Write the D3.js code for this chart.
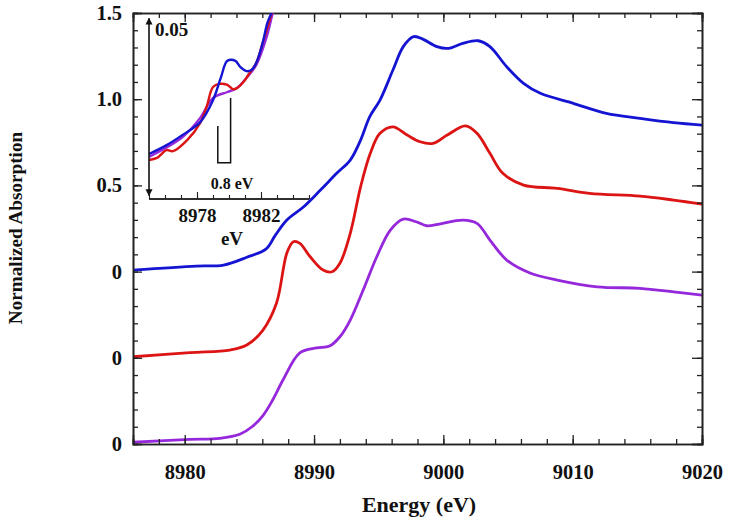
<!DOCTYPE html>
<html><head><meta charset="utf-8">
<script src="https://cdn.jsdelivr.net/npm/d3@7"></script>
<style>body{margin:0;background:#fff}svg{display:block}text{font-family:"Liberation Serif","Times New Roman",serif;font-weight:bold;fill:#111}</style>
</head><body><svg id="c" width="729" height="526"></svg>
<script>
// ---- data ----
const seriesNames = ["blue", "red", "purple"];
const seriesColors = ["#1414d2", "#dc1414", "#9628dc"];
const offsets = [1.0, 0.5, 0.0];
const blueE = [8976,8980.9,8983.0,8984.8,8986.3,8987.0,8987.9,8989.2,8990.5,8991.75,8992.8,8993.6,8994.3,8995.1,8996.1,8996.9,8997.7,8998.45,8999.5,9000.4,9001.5,9002.7,9003.6,9004.9,9006.2,9007.5,9010.05,9012.6,9015.2,9017.8,9020];
const blueV = [0.009,0.032,0.038,0.083,0.132,0.210,0.299,0.376,0.473,0.570,0.647,0.763,0.898,0.995,1.169,1.305,1.363,1.347,1.305,1.295,1.324,1.339,1.305,1.188,1.092,1.034,0.976,0.918,0.889,0.864,0.850];
const redE = [8976,8980.4,8983.5,8984.8,8986.05,8987.1,8987.9,8988.4,8988.9,8989.7,8990.7,8991.4,8992.0,8992.8,8993.6,8994.35,8995.1,8996.1,8997.2,8998.2,8999.2,9000.3,9001.7,9002.6,9003.6,9004.6,9006.2,9008.8,9011.3,9015.2,9017.8,9020];
const redV = [0.006,0.030,0.045,0.074,0.161,0.318,0.608,0.673,0.664,0.586,0.509,0.499,0.548,0.722,0.992,1.186,1.302,1.340,1.292,1.253,1.244,1.292,1.345,1.302,1.186,1.070,1.002,0.983,0.954,0.938,0.915,0.892];
const purpleE = [8976,8980.4,8982.7,8984.3,8985.2,8986.05,8986.8,8987.6,8988.9,8990.2,8991.2,8992.0,8992.8,8993.8,8994.85,8995.9,8996.9,8997.9,8998.7,8999.7,9001.5,9002.6,9003.6,9004.9,9006.7,9008.8,9011.9,9015.2,9017.8,9020];
const purpleV = [0.010,0.027,0.033,0.058,0.100,0.165,0.255,0.371,0.528,0.557,0.568,0.622,0.719,0.893,1.086,1.241,1.305,1.289,1.266,1.276,1.299,1.280,1.183,1.067,0.992,0.951,0.912,0.903,0.883,0.864];
// inset (pre-edge) data
const insBlueE = [8975.0,8976.1,8977.1,8978.2,8979.0,8979.5,8979.9,8980.4,8980.7,8981.1,8981.4,8981.7,8982.1,8982.4,8982.7,8983.0];
const insBlueV = [0.0127,0.0152,0.0181,0.0217,0.0279,0.0344,0.0390,0.0390,0.0373,0.0361,0.0364,0.0384,0.0440,0.0497,0.0530,0.0570];
const insRedE = [8975.0,8975.5,8976.1,8976.5,8977.4,8978.2,8978.6,8979.0,8979.4,8979.9,8980.25,8980.5,8980.9,8981.2,8981.7,8982.1,8982.6,8982.9];
const insRedV = [0.0110,0.0116,0.0138,0.0135,0.0167,0.0215,0.0260,0.0316,0.0325,0.0322,0.0310,0.0313,0.0330,0.0350,0.0384,0.0440,0.0514,0.0560];
const insPurpleE = [8975.0,8977.1,8978.2,8979.0,8979.9,8980.5,8981.1,8981.7,8982.35,8982.7,8983.0];
const insPurpleV = [0.0119,0.0175,0.0229,0.0285,0.0302,0.0313,0.0342,0.0378,0.0457,0.0519,0.0570];
const yTickVals = [0, 0.5, 1.0, 1.5, 2.0, 2.5];
const yTickLabels = ["0", "0", "0", "0.5", "1.0", "1.5"];
const xTickVals = [8980, 8990, 9000, 9010, 9020];
const insXTickLabels = [8978, 8982];
const arrowSpan = [0.001, 0.051];
const arrowLabel = "0.05";
const splitE = [8979.3, 8980.1];
const splitTop = [0.0206, 0.0285];
const splitBottom = 0.0102;
const splitLabel = "0.8 eV";

// ---- scales ----
const svg = d3.select("#c");
const x = d3.scaleLinear([8976, 9020], [133, 702]);
const y = d3.scaleLinear([0, 2.5], [444, 13]);
const xi = d3.scaleLinear([8975, 8985], [149, 309]);
const yi = d3.scaleLinear([0, 0.0525], [199, 13]);
const axisColor = "#222";

svg.append("defs").append("clipPath").attr("id","clipMain").append("rect")
  .attr("x",133).attr("y",13).attr("width",569).attr("height",431);
svg.select("defs").append("clipPath").attr("id","clipIns").append("rect")
  .attr("x",149).attr("y",13).attr("width",160).attr("height",186);
const mk = svg.select("defs").append("marker").attr("id","ah").attr("viewBox","0 0 10 10")
  .attr("refX",9).attr("refY",5).attr("markerWidth",7).attr("markerHeight",9)
  .attr("markerUnits","userSpaceOnUse").attr("orient","auto-start-reverse");
mk.append("path").attr("d","M0,0 L10,5 L0,10 z").attr("fill","#111");

// ---- main curves ----
const mainData = [[blueE, blueV], [redE, redV], [purpleE, purpleV]];
const line = d3.line().curve(d3.curveCatmullRom.alpha(0.5));
mainData.forEach(([E, V], i) => {
  const pts = E.map((e, k) => [x(e), y(V[k] + offsets[i])]);
  svg.append("path").attr("d", line(pts)).attr("fill","none")
    .attr("stroke", seriesColors[i]).attr("stroke-width", 2.8)
    .attr("clip-path","url(#clipMain)");
});

// ---- axes (box with inward ticks) ----
const gB = svg.append("g").attr("transform","translate(0,444)")
  .call(d3.axisBottom(x).tickValues(d3.range(8976, 9021, 2)).tickSize(-5).tickFormat(""));
const gB2 = svg.append("g").attr("transform","translate(0,444)")
  .call(d3.axisBottom(x).tickValues(xTickVals).tickSize(-9).tickPadding(20).tickFormat(d3.format("d")));
gB2.selectAll("text").attr("font-size", 20.5);
const gT = svg.append("g").attr("transform","translate(0,13)")
  .call(d3.axisTop(x).tickValues(d3.range(8976, 9021, 2)).tickSize(-5).tickFormat(""));
const gT2 = svg.append("g").attr("transform","translate(0,13)")
  .call(d3.axisTop(x).tickValues(xTickVals).tickSize(-9).tickFormat(""));
const minorY = d3.range(0, 2.501, 0.1);
const gL = svg.append("g").attr("transform","translate(133,0)")
  .call(d3.axisLeft(y).tickValues(minorY).tickSize(-5).tickFormat(""));
const gL2 = svg.append("g").attr("transform","translate(133,0)")
  .call(d3.axisLeft(y).tickValues(yTickVals).tickSize(-9).tickPadding(11)
    .tickFormat((d,i) => yTickLabels[i]));
gL2.selectAll("text").attr("font-size", 20.5);
const gR = svg.append("g").attr("transform","translate(702,0)")
  .call(d3.axisRight(y).tickValues(minorY).tickSize(-5).tickFormat(""));
const gR2 = svg.append("g").attr("transform","translate(702,0)")
  .call(d3.axisRight(y).tickValues(yTickVals).tickSize(-10).tickFormat(""));
[gB,gB2,gT,gT2,gL,gL2,gR,gR2].forEach(g => {
  g.select(".domain").attr("stroke", axisColor).attr("stroke-width", 1.6);
  g.selectAll(".tick line").attr("stroke", axisColor).attr("stroke-width", 1.3);
  g.selectAll("text").attr("fill","#111").attr("font-family","Liberation Serif").attr("font-weight","bold");
});

svg.append("text").attr("x", 419).attr("y", 512).attr("text-anchor","middle")
  .attr("font-size", 22).text("Energy (eV)");
svg.append("text").attr("transform","translate(22,228) rotate(-90)").attr("text-anchor","middle")
  .attr("font-size", 19.2).text("Normalized Absorption");

// ---- inset ----
const insData = [[insBlueE, insBlueV], [insRedE, insRedV], [insPurpleE, insPurpleV]];
const drawOrder = [2, 1, 0];
drawOrder.forEach(i => {
  const [E, V] = insData[i];
  const pts = E.map((e, k) => [xi(e), yi(V[k])]);
  svg.append("path").attr("d", line(pts)).attr("fill","none")
    .attr("stroke", seriesColors[i]).attr("stroke-width", 2.4)
    .attr("clip-path","url(#clipIns)");
});
const gI = svg.append("g").attr("transform","translate(0,199)")
  .call(d3.axisBottom(xi).tickValues(d3.range(8975, 8986, 1)).tickSize(-4).tickFormat(""));
const gI2 = svg.append("g").attr("transform","translate(0,199)")
  .call(d3.axisBottom(xi).tickValues(insXTickLabels).tickSize(-7).tickPadding(10).tickFormat(d3.format("d")));
gI2.selectAll("text").attr("font-size", 19);
[gI, gI2].forEach(g => {
  g.select(".domain").attr("stroke", axisColor).attr("stroke-width", 1.4).attr("d","M149,0H309");
  g.selectAll(".tick line").attr("stroke", axisColor).attr("stroke-width", 1.1);
  g.selectAll("text").attr("fill","#111").attr("font-family","Liberation Serif").attr("font-weight","bold");
});
svg.append("text").attr("x", 232).attr("y", 245).attr("text-anchor","middle")
  .attr("font-size", 19).text("eV");
// 0.05 arrow
svg.append("line").attr("x1", xi(8975)).attr("x2", xi(8975))
  .attr("y1", yi(arrowSpan[0])).attr("y2", yi(arrowSpan[1]))
  .attr("stroke","#111").attr("stroke-width",1.6)
  .attr("marker-start","url(#ah)").attr("marker-end","url(#ah)");
svg.append("text").attr("x", 155).attr("y", 36).attr("font-size", 19).text(arrowLabel);
// 0.8 eV split marker
svg.append("path").attr("fill","none").attr("stroke","#111").attr("stroke-width",1.5)
  .attr("d", `M${xi(splitE[0])},${yi(splitTop[0])}V${yi(splitBottom)}H${xi(splitE[1])}V${yi(splitTop[1])}`);
svg.append("text").attr("x", 232).attr("y", 189).attr("text-anchor","middle")
  .attr("font-size", 16).attr("font-weight","normal").text(splitLabel);
</script></body></html>
